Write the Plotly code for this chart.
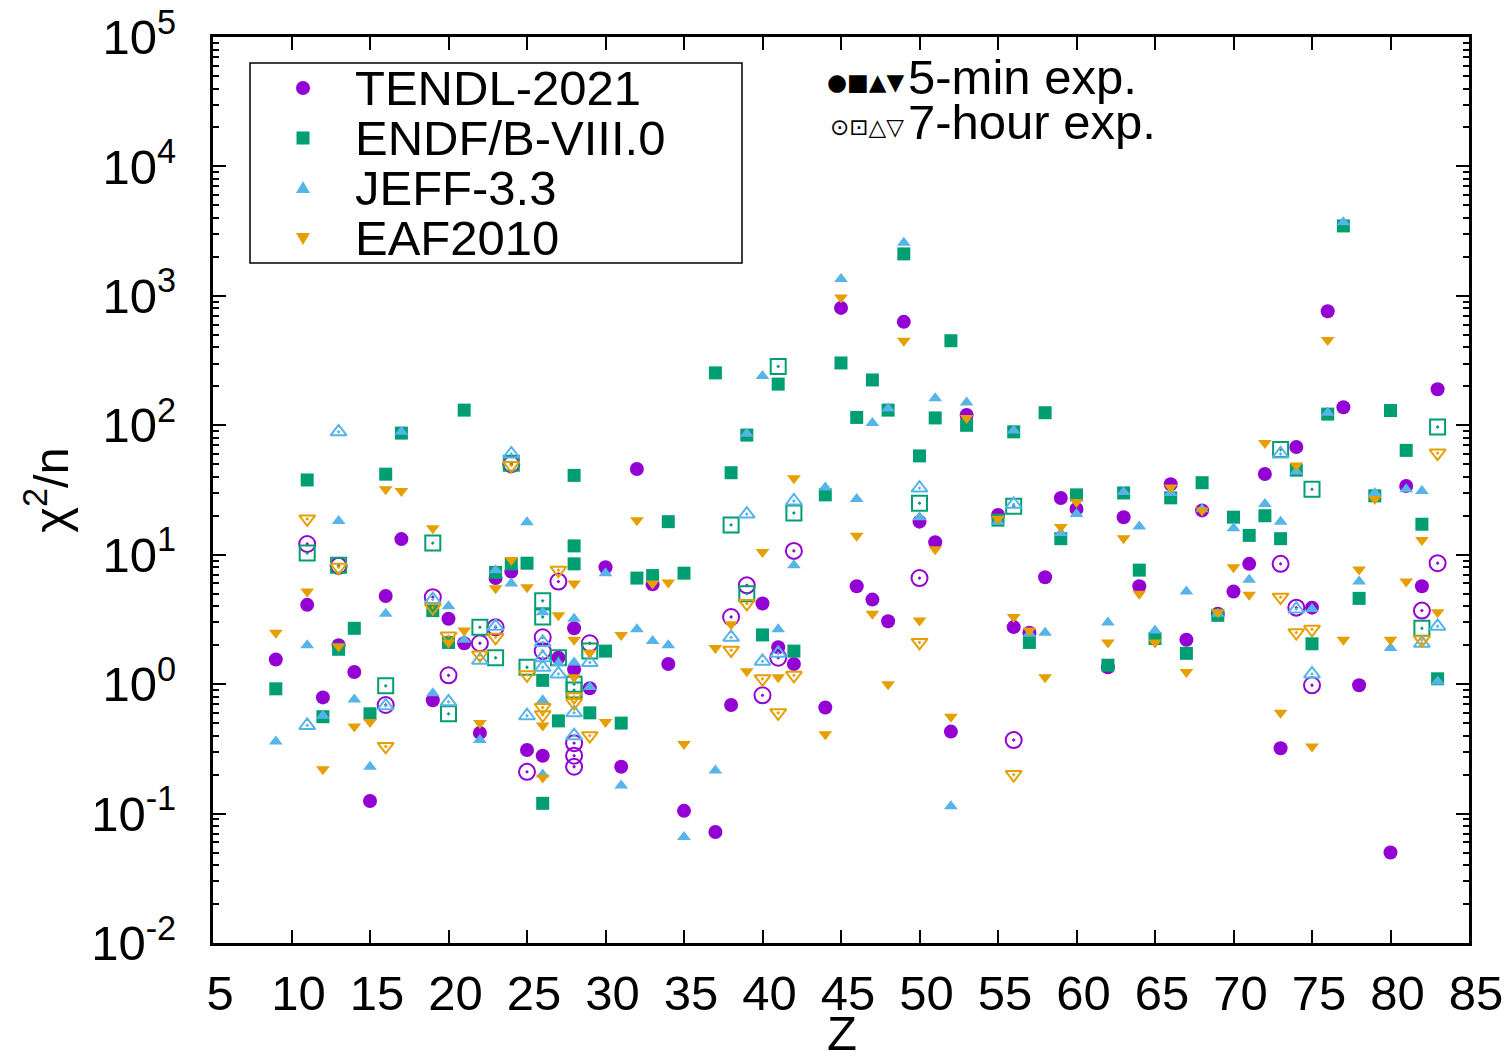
import plotly.graph_objects as go

# ---------------- data (Z, chi^2/n) ----------------
tendl_5min_z = [9, 11, 12, 13, 14, 15, 16, 17, 19, 20, 21, 22, 23, 24, 25, 26, 27, 28, 28, 29, 30, 31, 32, 33, 34, 35, 37, 38, 40, 41, 42, 44, 45, 46, 47, 48, 49, 50, 51, 52, 53, 55, 56, 57, 58, 59, 60, 62, 63, 64, 66, 67, 68, 69, 70, 71, 72, 73, 74, 75, 76, 77, 78, 80, 81, 82, 83]
tendl_5min_v = [1.55, 4.1, 0.79, 2.0, 1.24, 0.125, 4.8, 13.2, 0.75, 3.2, 2.07, 0.42, 6.6, 7.4, 0.31, 0.28, 1.6, 2.7, 1.3, 0.93, 8.0, 0.23, 46, 5.9, 1.43, 0.105, 0.072, 0.69, 4.2, 1.93, 1.43, 0.66, 807, 5.7, 4.5, 3.06, 630, 18, 12.5, 0.43, 120, 20.3, 2.76, 2.5, 6.7, 27.4, 22.6, 1.35, 19.5, 5.7, 35, 2.2, 22, 3.5, 5.2, 8.5, 42, 0.32, 68, 3.9, 760, 138, 0.98, 0.05, 34, 5.7, 190]

tendl_7h_z = [11, 13, 16, 19, 20, 22, 23, 24, 25, 26, 26, 27, 28, 28, 28, 29, 38, 39, 40, 41, 42, 50, 56, 73, 74, 75, 82, 83]
tendl_7h_v = [12.1, 8.2, 0.69, 4.7, 1.17, 2.07, 2.75, 50, 0.21, 2.3, 1.8, 6.2, 0.35, 0.28, 0.23, 2.07, 3.3, 5.8, 0.82, 1.6, 10.7, 6.6, 0.37, 8.5, 3.9, 0.98, 3.7, 8.6]

endf_5min_z = [9, 11, 12, 13, 14, 15, 16, 17, 19, 20, 21, 23, 24, 25, 26, 26, 27, 28, 28, 28, 29, 30, 31, 32, 33, 34, 35, 37, 38, 39, 40, 41, 42, 44, 45, 46, 47, 48, 49, 50, 51, 52, 53, 55, 56, 57, 58, 59, 60, 62, 63, 64, 65, 66, 67, 68, 69, 70, 71, 72, 73, 74, 75, 76, 77, 78, 79, 80, 81, 82, 83]
endf_5min_v = [0.92, 37.8, 0.56, 1.86, 2.7, 0.59, 41.9, 87, 3.7, 2.1, 131, 7.3, 8.5, 8.6, 1.07, 0.12, 0.52, 41, 11.7, 8.5, 0.6, 1.8, 0.5, 6.6, 6.9, 18, 7.2, 254, 43, 84, 2.4, 208, 1.8, 29, 303, 115, 224, 131, 2110, 58, 114, 450, 100, 18.5, 89, 2.1, 125, 13.3, 29, 1.4, 30, 7.6, 2.25, 27.5, 1.73, 36, 3.4, 19.5, 14.1, 20, 13.3, 45, 2.05, 122, 3470, 4.6, 28.5, 130, 64, 17.2, 1.1]

endf_7h_z = [11, 13, 16, 19, 20, 22, 23, 24, 25, 26, 26, 27, 28, 28, 29, 38, 39, 41, 42, 50, 56, 73, 75, 82, 83]
endf_7h_v = [10.3, 8.3, 0.97, 12.3, 0.59, 2.75, 1.6, 51, 1.35, 4.4, 3.3, 1.6, 1.0, 0.9, 1.8, 17, 5.0, 285, 21, 25, 23.7, 65, 32, 2.7, 97]

jeff_5min_z = [9, 11, 12, 13, 14, 15, 16, 17, 19, 20, 21, 22, 23, 24, 25, 26, 26, 26, 27, 28, 28, 29, 30, 31, 32, 33, 34, 35, 37, 39, 40, 41, 42, 44, 45, 46, 47, 48, 49, 50, 51, 52, 53, 55, 56, 57, 58, 59, 60, 62, 63, 64, 65, 66, 67, 68, 69, 70, 71, 72, 73, 74, 75, 76, 77, 78, 79, 80, 81, 82, 83]
jeff_5min_v = [0.36, 2.0, 0.57, 18.2, 0.76, 0.23, 3.5, 89, 0.85, 4.0, 2.2, 0.37, 7.6, 6.0, 17.8, 3.6, 0.75, 0.2, 1.45, 3.2, 1.47, 0.95, 7.2, 0.165, 2.65, 2.15, 2.0, 0.066, 0.215, 86, 240, 2.65, 8.3, 33, 1350, 27, 104, 135, 2570, 19.5, 162, 0.114, 150, 18, 91, 2.45, 2.5, 14.7, 20.6, 3.0, 30.5, 16.5, 2.6, 30, 5.2, 22.5, 3.5, 16, 6.4, 24.7, 18, 44, 3.8, 125, 3700, 6.2, 30, 1.9, 32, 31, 1.05]

jeff_7h_z = [11, 13, 16, 19, 20, 22, 23, 24, 25, 26, 26, 26, 27, 28, 28, 29, 38, 39, 40, 41, 42, 50, 56, 73, 74, 75, 82, 83]
jeff_7h_v = [0.48, 89, 0.68, 4.5, 0.73, 1.53, 2.8, 60, 0.57, 2.1, 1.6, 1.35, 1.2, 0.6, 0.4, 1.47, 2.3, 20.6, 1.5, 1.73, 26, 32.7, 24.5, 60, 3.8, 1.2, 2.07, 2.8]

eaf_5min_z = [9, 11, 12, 13, 14, 15, 16, 17, 19, 20, 21, 22, 23, 24, 25, 26, 26, 27, 28, 28, 28, 29, 30, 31, 32, 33, 34, 35, 37, 38, 39, 40, 41, 42, 44, 45, 46, 47, 48, 49, 50, 51, 52, 53, 55, 56, 57, 58, 59, 60, 62, 63, 64, 65, 66, 67, 68, 69, 70, 71, 72, 73, 74, 75, 76, 77, 78, 79, 80, 81, 82, 83]
eaf_5min_v = [2.5, 5.2, 0.22, 1.95, 0.47, 0.51, 32, 31, 16, 2.1, 2.6, 0.5, 5.5, 9.1, 5.6, 0.48, 0.19, 3.4, 6.0, 2.2, 1.13, 1.75, 0.51, 2.4, 18.5, 6.0, 6.1, 0.345, 1.9, 2.9, 1.26, 10.5, 1.13, 39, 0.41, 970, 14, 3.5, 1.0, 450, 3.1, 11, 0.56, 114, 19, 3.3, 2.6, 1.13, 16.4, 25.5, 2.1, 13.4, 5.0, 2.1, 33, 1.24, 22, 3.6, 8.0, 4.9, 73, 0.6, 49, 0.33, 456, 2.2, 7.7, 27, 2.2, 6.2, 13, 3.6]

eaf_7h_z = [11, 13, 16, 19, 20, 22, 23, 24, 25, 26, 26, 27, 28, 28, 29, 38, 39, 40, 41, 42, 50, 56, 73, 74, 75, 82, 83]
eaf_7h_v = [18.9, 8.0, 0.33, 3.9, 2.35, 1.68, 2.3, 49, 1.18, 0.66, 0.58, 7.6, 0.8, 0.72, 0.4, 1.83, 4.2, 1.1, 0.6, 1.17, 2.1, 0.2, 4.7, 2.5, 2.65, 2.2, 61]

libraries = ["TENDL-2021", "ENDF/B-VIII.0", "JEFF-3.3", "EAF2010"]
x_ticks = list(range(5, 90, 5))
y_exponents = list(range(-2, 6))

# ---------------- styles ----------------
PURPLE = "#9400D3"
GREEN = "#009E73"
BLUE = "#56B4E9"
ORANGE = "#E69F00"
FONT = "Liberation Sans, Arial, sans-serif"
FS = 49

series = [
    (libraries[0], tendl_5min_z, tendl_5min_v, tendl_7h_z, tendl_7h_v, PURPLE, "circle", 14),
    (libraries[1], endf_5min_z, endf_5min_v, endf_7h_z, endf_7h_v, GREEN, "square", 13),
    (libraries[2], jeff_5min_z, jeff_5min_v, jeff_7h_z, jeff_7h_v, BLUE, "triangle-up", 12),
    (libraries[3], eaf_5min_z, eaf_5min_v, eaf_7h_z, eaf_7h_v, ORANGE, "triangle-down", 12),
]

fig = go.Figure()
for name, z5, v5, z7, v7, col, sym, size in series:
    fig.add_trace(go.Scatter(
        x=z7, y=v7, mode="markers", name=name + " (7-hour)", showlegend=False,
        marker=dict(symbol=sym + "-open-dot", size=size + 2, color=col,
                    line=dict(color=col, width=2)),
    ))
    fig.add_trace(go.Scatter(
        x=z5, y=v5, mode="markers", name=name, showlegend=False,
        marker=dict(symbol=sym, size=size, color=col, line=dict(width=0)),
    ))

# ---------------- axes ----------------
minor_vals = [k * 10.0 ** e for e in range(-2, 5) for k in range(2, 10)]
fig.update_xaxes(
    range=[5, 85], tickvals=x_ticks, ticks="inside", ticklen=13, tickwidth=1.5,
    tickcolor="black", showline=True, linecolor="black", linewidth=3,
    mirror="allticks", showgrid=False, zeroline=False, automargin=False,
    tickfont=dict(family=FONT, size=FS, color="black"), ticklabelstandoff=5,
    ticklabelshift=7,
)
fig.update_yaxes(
    type="log", range=[-2, 5],
    tickvals=[10.0 ** e for e in y_exponents],
    ticktext=["10<sup>%d</sup>" % e for e in y_exponents],
    ticks="inside", ticklen=13, tickwidth=1.5, tickcolor="black",
    minor=dict(tickvals=minor_vals, ticks="inside", ticklen=6, tickwidth=1.5, tickcolor="black", showgrid=False),
    showline=True, linecolor="black", linewidth=3, mirror="allticks",
    showgrid=False, zeroline=False, automargin=False,
    tickfont=dict(family=FONT, size=FS, color="black"), ticklabelstandoff=24,
    title=dict(text="χ<sup>2</sup>/n", font=dict(family=FONT, size=FS, color="black"), standoff=8),
)

# ---------------- legend (drawn) ----------------
W, H = 1256.0, 906.0
L, T = 213.0, 37.0
def px(x):
    return (x - L) / W
def py(y):
    return (T + H - y) / H

shapes = [dict(type="rect", xref="paper", yref="paper", x0=px(250), x1=px(742), y0=py(263), y1=py(63),
               line=dict(color="black", width=1.5), fillcolor="white", layer="above")]
annotations = []
legend_rows = [88, 138, 188, 238]
marker_paths = [None, None, "M -7,-5 L 7,-5 L 0,7 Z", "M -7,5 L 7,5 L 0,-7 Z"]
for i, (name, *_rest) in enumerate(series):
    col = _rest[4]
    yy = py(legend_rows[i])
    common = dict(xref="paper", yref="paper", xsizemode="pixel", ysizemode="pixel",
                  xanchor=px(303), yanchor=yy, fillcolor=col, line=dict(width=0), layer="above")
    if i == 0:
        shapes.append(dict(type="circle", x0=-7, x1=7, y0=-7, y1=7, **common))
    elif i == 1:
        shapes.append(dict(type="rect", x0=-6.5, x1=6.5, y0=-6.5, y1=6.5, **common))
    else:
        shapes.append(dict(type="path", path=marker_paths[i], **common))
    annotations.append(dict(xref="paper", yref="paper", x=px(353), y=yy, text=name, showarrow=False,
                            xanchor="left", yanchor="middle",
                            font=dict(family=FONT, size=FS, color="black")))

# exposure key + x-axis title
annotations += [
    dict(xref="paper", yref="paper", x=px(906), y=py(82), text="●■▲▼", showarrow=False,
         xanchor="right", yanchor="middle", font=dict(family="DejaVu Sans", size=23, color="black")),
    dict(xref="paper", yref="paper", x=px(906), y=py(77), text="5-min exp.", showarrow=False,
         xanchor="left", yanchor="middle", font=dict(family=FONT, size=FS, color="black")),
    dict(xref="paper", yref="paper", x=px(906), y=py(127), text="⊙⊡△▽", showarrow=False,
         xanchor="right", yanchor="middle", font=dict(family="DejaVu Sans", size=23, color="black")),
    dict(xref="paper", yref="paper", x=px(906), y=py(122), text="7-hour exp.", showarrow=False,
         xanchor="left", yanchor="middle", font=dict(family=FONT, size=FS, color="black")),
    dict(xref="paper", yref="paper", x=px(842), y=py(1033), text="Z", showarrow=False,
         xanchor="center", yanchor="middle", font=dict(family=FONT, size=FS, color="black")),
]

fig.update_layout(
    width=1506, height=1063,
    margin=dict(l=213, r=37, t=37, b=120, pad=0),
    paper_bgcolor="white", plot_bgcolor="white",
    showlegend=False, shapes=shapes, annotations=annotations,
)

fig.write_html("out.html")
